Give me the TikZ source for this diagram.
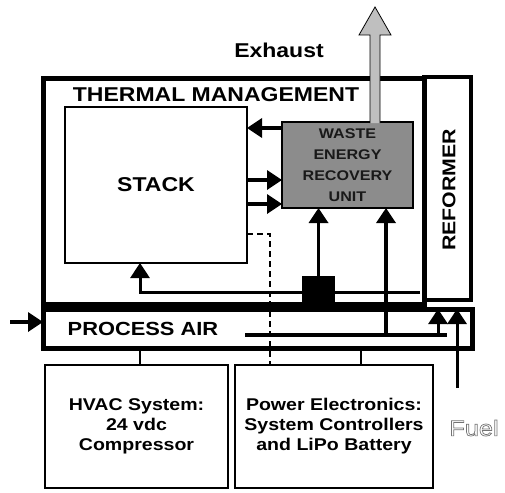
\documentclass[tikz,border=0pt]{standalone}
\usepackage{fontspec}
\setmainfont{Liberation Sans}[FakeStretch=1.15]
\usetikzlibrary{arrows.meta}

\begin{document}
\begin{tikzpicture}[
        x=1pt, y=-1pt,
        frame/.style={draw, line width=5pt, inner sep=0pt, outer sep=0pt},
        unit/.style={
            draw,
            line width=1.8pt,
            inner sep=0pt,
            outer sep=0pt,
            align=center
        },
        title/.style={font=\bfseries\fontsize{20}{24}\selectfont},
        flow/.style={line width=3.5pt, -{Triangle[length=15pt,width=19pt]}},
        pipe/.style={line width=3.5pt},
        link/.style={line width=1.5pt}
    ]
        \useasboundingbox (0,0) rectangle (505,492);

        % enclosures
        \node[frame, minimum width=381pt, minimum height=225pt] (thermal) at (233.5,191.5) {};
        \node[frame, line width=3.5pt, minimum width=47pt, minimum height=223pt] (reformer) at (447.5,188.5) {};
        \node[frame, minimum width=429pt, minimum height=39pt] (processair) at (257.5,328.5) {};

        \node[title] (thermaltext) at (216,95) {THERMAL MANAGEMENT};
        \node[title, rotate=90, font=\bfseries\fontsize{18.5}{22}\selectfont] (reformertext) at (449,190) {REFORMER};
        \node[title, font=\bfseries\fontsize{19}{22}\selectfont] (airtext) at (143,329) {PROCESS AIR};
        \node[title] (exhausttext) at (279,50) {Exhaust};

        % units
        \node[unit, title, minimum width=182pt, minimum height=156pt] (stack) at (156,185) {STACK};
        \node[unit, fill=black!45, text=black!90, minimum width=131pt, minimum height=86pt,
            font=\bfseries\fontsize{14}{21}\selectfont] (weru) at (347.5,165) {WASTE\\ENERGY\\RECOVERY\\UNIT};
        \node[fill=black, inner sep=0pt, outer sep=0pt, minimum width=33pt, minimum height=26pt] (sq) at (318.5,289) {};
        \node[unit, minimum width=183pt, minimum height=123pt,
            font=\bfseries\fontsize{17}{20}\selectfont] (hvac) at (136.5,426.5) {HVAC System:\\24 vdc\\Compressor};
        \node[unit, minimum width=198pt, minimum height=123pt,
            font=\bfseries\fontsize{17}{20}\selectfont] (pe) at (334,426.5) {Power Electronics:\\System Controllers\\and LiPo Battery};

        \coordinate (airin) at (10,322);
        \coordinate (airstart) at (245,335);
        \coordinate (airend) at (447,335);
        \coordinate (fuelin) at (457,388);
        \coordinate (feedend) at (420,292);
        \coordinate (exhtop) at (375,7);

        % heat flows
        \draw[flow] (weru.west |- 0,128) -- (stack.east |- 0,128);
        \draw[flow] (stack.east |- 0,180) -- (weru.west |- 0,180);
        \draw[flow] (stack.east |- 0,204) -- (weru.west |- 0,204);
        \draw[flow, line width=3pt] (feedend) -| ([xshift=-16pt]stack.south);
        \draw[flow] (sq.north) -- (weru.south -| sq.north);

        % air and fuel
        \draw[flow] (airin) -- (processair.west |- airin);
        \draw[pipe] (airstart) -- (airend);
        \draw[flow] (airstart -| 386,0) -- (weru.south -| 386,0);
        \draw[flow, line width=3pt] (airend -| 438,0) -- (processair.north -| 438,0);
        \draw[flow, line width=3pt] (fuelin) -- (processair.north -| fuelin);

        \draw[link, dashed, dash pattern=on 6pt off 4pt] (stack.east |- 0,234) -| (pe.north -| 270,0);
        \draw[link] (hvac.north -| 140,0) -- (processair.south -| 140,0);
        \draw[link] (pe.north -| 361,0) -- (processair.south -| 361,0);

        % exhaust
        \filldraw[fill=black!25, line width=0.8pt] (370,123) -- (370,35) -- (359,35) -- (exhtop)
            -- (391,35) -- (380,35) -- (380,123);

        \node[text=black!55, font=\fontsize{22}{26}\selectfont] (fueltext) at (474,428)
            {\special{pdf:literal direct 1 Tr 0.7 w}Fuel\special{pdf:literal direct 0 Tr}};
    \end{tikzpicture}
\end{document}
